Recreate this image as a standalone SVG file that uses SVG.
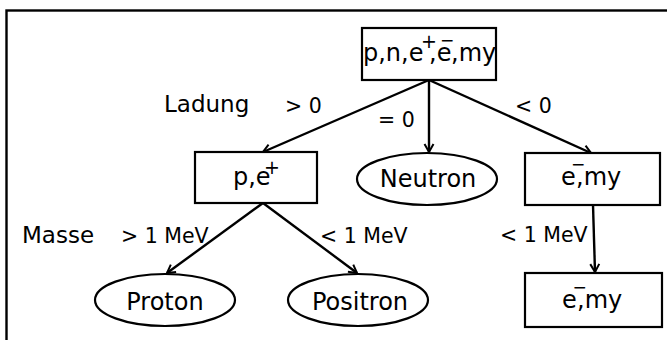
<svg xmlns="http://www.w3.org/2000/svg" width="667" height="340" viewBox="0 0 667 340">
<defs>
<style>
text{font-family:"DejaVu Sans","Liberation Sans",sans-serif;fill:#000}
.n{font-size:24px}
.sup{font-size:19px}
.supm{font-size:17px}
.lbl{font-size:20.5px}
.cat{font-size:23px}
.box{fill:#fff;stroke:#000;stroke-width:2.2}
.edge{fill:none;stroke:#000;stroke-width:2.4;marker-end:url(#arr)}
</style>
<marker id="arr" markerUnits="userSpaceOnUse" viewBox="-10 -6 12 12" refX="0" refY="0" markerWidth="12" markerHeight="12" orient="auto" overflow="visible">
<path d="M-8,-4.5 L0,0 L-8,4.5" fill="none" stroke="#000" stroke-width="2"/>
</marker>
</defs>
<rect x="6.5" y="10.5" width="700" height="400" fill="none" stroke="#000" stroke-width="2.4"/>
<g id="connectors">
<line class="edge" x1="429" y1="80" x2="263" y2="152"/>
<line class="edge" x1="429" y1="80" x2="429" y2="152"/>
<line class="edge" x1="429" y1="80" x2="591" y2="153"/>
<line class="edge" x1="263" y1="203" x2="167" y2="273"/>
<line class="edge" x1="263" y1="203" x2="357" y2="273"/>
<line class="edge" x1="593" y1="205" x2="595" y2="272"/>
</g>
<g id="labels">
<text class="cat" x="164" y="112">Ladung</text>
<text class="lbl" x="285" y="113">&gt; 0</text>
<text class="lbl" x="378" y="127">= 0</text>
<text class="lbl" x="515" y="113">&lt; 0</text>
<text class="cat" x="22" y="243">Masse</text>
<text class="lbl" x="121" y="243">&gt; 1 MeV</text>
<text class="lbl" x="320" y="243">&lt; 1 MeV</text>
<text class="lbl" x="500" y="242">&lt; 1 MeV</text>
</g>
<g id="root">
<rect class="box" x="362" y="28" width="134" height="52"/>
<text class="n" x="363" y="61">p,n,e<tspan class="sup" x="421" y="48">+</tspan><tspan x="429" y="61">,e</tspan><tspan class="supm" x="440" y="46">−</tspan><tspan x="451" y="61">,my</tspan></text>
</g>
<g id="pe">
<rect class="box" x="195" y="152" width="122" height="51"/>
<text class="n" x="233" y="185">p,e<tspan class="sup" x="264" y="174">+</tspan></text>
</g>
<g id="neutron">
<ellipse class="box" cx="427" cy="179" rx="70" ry="26"/>
<text class="n" x="428" y="187" text-anchor="middle">Neutron</text>
</g>
<g id="emy1">
<rect class="box" x="525" y="153" width="135" height="52"/>
<text class="n" x="561" y="185">e<tspan class="supm" x="571" y="170">−</tspan><tspan x="576" y="185">,my</tspan></text>
</g>
<g id="proton">
<ellipse class="box" cx="165" cy="300" rx="70" ry="26"/>
<text class="n" x="165" y="310" text-anchor="middle">Proton</text>
</g>
<g id="positron">
<ellipse class="box" cx="358" cy="300" rx="70" ry="26"/>
<text class="n" x="360" y="310" text-anchor="middle">Positron</text>
</g>
<g id="emy2">
<rect class="box" x="525" y="273" width="137" height="54"/>
<text class="n" x="562" y="308">e<tspan class="supm" x="572.5" y="293">−</tspan><tspan x="577" y="308">,my</tspan></text>
</g>
</svg>
